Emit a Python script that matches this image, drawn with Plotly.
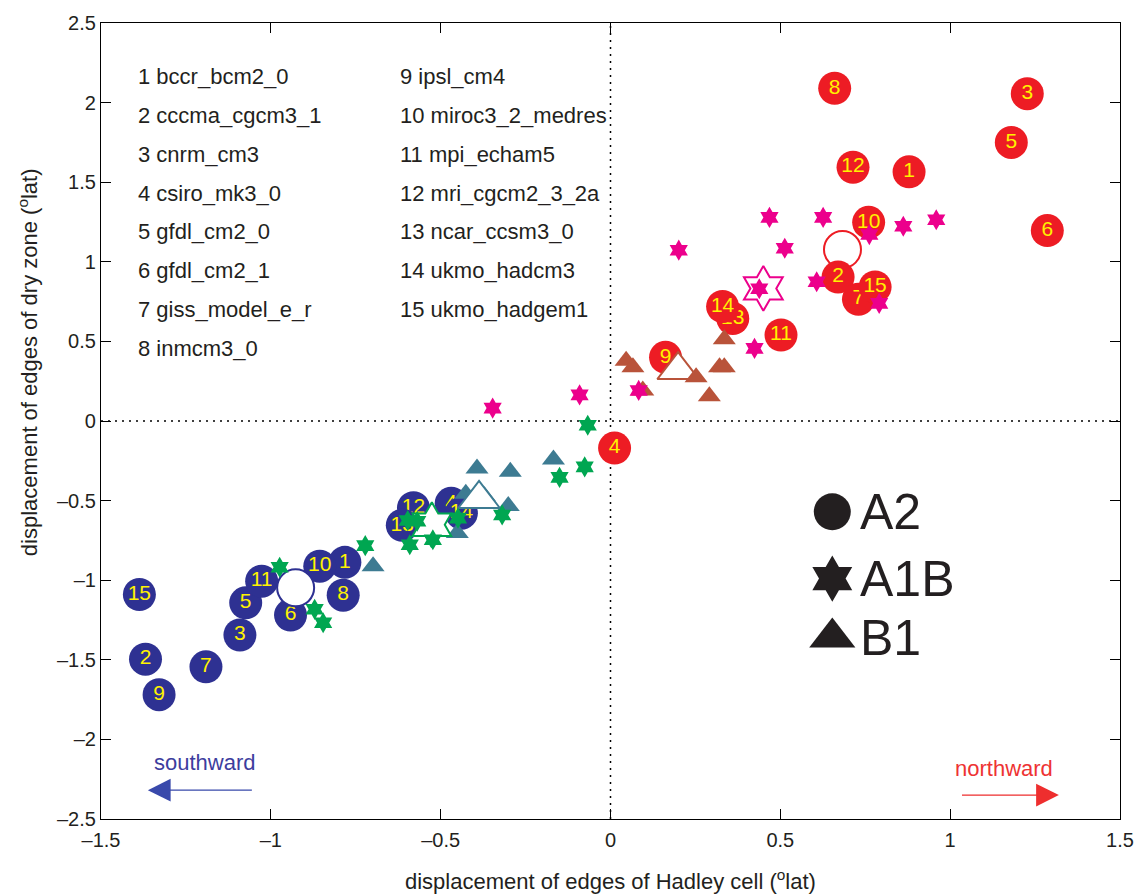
import plotly.graph_objects as go

# ---------------- data ----------------
model_names = ["bccr_bcm2_0", "cccma_cgcm3_1", "cnrm_cm3", "csiro_mk3_0", "gfdl_cm2_0",
               "gfdl_cm2_1", "giss_model_e_r", "inmcm3_0", "ipsl_cm4", "miroc3_2_medres",
               "mpi_echam5", "mri_cgcm2_3_2a", "ncar_ccsm3_0", "ukmo_hadcm3", "ukmo_hadgem1"]

# A2 northward (red circles), model number -> (x, y)
a2n_id = [1, 2, 3, 4, 5, 6, 7, 8, 9, 10, 11, 12, 13, 14, 15]
a2n_x = [0.879, 0.670, 1.227, 0.012, 1.180, 1.286, 0.730, 0.660, 0.162, 0.760, 0.502, 0.714, 0.360, 0.330, 0.779]
a2n_y = [1.565, 0.904, 2.056, -0.170, 1.750, 1.196, 0.765, 2.090, 0.400, 1.248, 0.540, 1.594, 0.644, 0.719, 0.842]
a2n_mean = (0.683, 1.077)

# A2 southward (navy circles)
a2s_id = [1, 2, 3, 4, 5, 6, 7, 8, 9, 10, 11, 12, 13, 14, 15]
a2s_x = [-0.782, -1.369, -1.091, -0.469, -1.074, -0.942, -1.191, -0.787, -1.329, -0.856, -1.027, -0.580, -0.613, -0.439, -1.387]
a2s_y = [-0.888, -1.496, -1.344, -0.517, -1.142, -1.219, -1.544, -1.094, -1.719, -0.912, -1.006, -0.545, -0.655, -0.579, -1.090]
a2s_mean = (-0.927, -1.048)

# A1B northward (magenta stars)
a1bn_x = [0.468, 0.626, 0.862, 0.959, 0.762, 0.201, 0.513, 0.607, 0.438, 0.791, 0.424, 0.083, -0.091, -0.347]
a1bn_y = [1.279, 1.279, 1.223, 1.264, 1.171, 1.073, 1.085, 0.875, 0.831, 0.739, 0.456, 0.192, 0.164, 0.081]
a1bn_mean = (0.450, 0.833)

# A1B southward (green stars)
a1bs_x = [-0.722, -0.974, -0.871, -0.846, -0.591, -0.597, -0.569, -0.067, -0.076, -0.150, -0.319, -0.449, -0.523]
a1bs_y = [-0.783, -0.919, -1.183, -1.267, -0.777, -0.625, -0.630, -0.027, -0.288, -0.354, -0.590, -0.610, -0.746]
a1bs_mean = (-0.526, -0.652)

# B1 northward (brown triangles)
b1n_x = [0.046, 0.066, 0.095, 0.252, 0.291, 0.335, 0.321, 0.335]
b1n_y = [0.379, 0.338, 0.192, 0.275, 0.156, 0.514, 0.338, 0.338]
b1n_mean = (0.199, 0.320)

# B1 southward (teal triangles)
b1s_x = [-0.393, -0.295, -0.168, -0.426, -0.371, -0.301, -0.451, -0.699]
b1s_y = [-0.298, -0.319, -0.242, -0.457, -0.472, -0.534, -0.704, -0.912]
b1s_mean = (-0.387, -0.490)

x_ticks = [-1.5, -1, -0.5, 0, 0.5, 1, 1.5]
y_ticks = [-2.5, -2, -1.5, -1, -0.5, 0, 0.5, 1, 1.5, 2, 2.5]

# ---------------- styles ----------------
RED = "#ED1C24"
NAVY = "#2E3192"
MAGENTA = "#EC008C"
GREEN = "#00A651"
BROWN = "#B9533A"
TEAL = "#3D7B92"
YELLOW = "#FFF200"
FONT = "Liberation Sans, Arial, Helvetica, sans-serif"

CIRC = 33
STAR = 16
TRI = 20
STAR_ANGLE = 0


def fmt(v):
    s = ("%g" % v)
    return s.replace("-", "\u2013")


fig = go.Figure()


def circles(ids, xs, ys, color):
    for i, x, y in zip(ids, xs, ys):
        fig.add_trace(go.Scatter(
            x=[x], y=[y], text=[str(i)], mode="markers+text",
            marker=dict(symbol="circle", size=CIRC, color=color, line=dict(width=0)),
            textfont=dict(color=YELLOW, size=21, family=FONT),
            textposition="middle center", hoverinfo="skip", showlegend=False))


def mean_marker(pt, symbol, size, color, angle=0):
    fig.add_trace(go.Scatter(
        x=[pt[0]], y=[pt[1]], mode="markers",
        marker=dict(symbol=symbol, size=size, color="white", angle=angle,
                    line=dict(color=color, width=2)),
        hoverinfo="skip", showlegend=False))


def pts(xs, ys, symbol, size, color, angle=0):
    fig.add_trace(go.Scatter(
        x=xs, y=ys, mode="markers",
        marker=dict(symbol=symbol, size=size, color=color, angle=angle,
                    line=dict(width=0)),
        hoverinfo="skip", showlegend=False))


# circles
circles(a2s_id, a2s_x, a2s_y, NAVY)
mean_marker(a2s_mean, "circle", 37, NAVY)
mean_marker(a2n_mean, "circle", 37, RED)
circles(a2n_id, a2n_x, a2n_y, RED)
# triangles
pts(b1s_x, b1s_y, "triangle-up", TRI, TEAL)
mean_marker(b1s_mean, "triangle-up", 36, TEAL)
mean_marker(b1n_mean, "triangle-up", 36, BROWN)
pts(b1n_x, b1n_y, "triangle-up", TRI, BROWN)
# stars
mean_marker(a1bs_mean, "hexagram", 34, GREEN, STAR_ANGLE)
mean_marker(a1bn_mean, "hexagram", 34, MAGENTA, STAR_ANGLE)
pts(a1bs_x, a1bs_y, "hexagram", STAR, GREEN, STAR_ANGLE)
pts(a1bn_x, a1bn_y, "hexagram", STAR, MAGENTA, STAR_ANGLE)

# legend markers
leg_y = [-0.57, -0.99, -1.36]
leg_sym = ["circle", "hexagram", "triangle-up"]
leg_size = [37, 35, 40]
leg_txt = ["A2", "A1B", "B1"]
for ly, sym, sz in zip(leg_y, leg_sym, leg_size):
    fig.add_trace(go.Scatter(
        x=[0.653], y=[ly], mode="markers",
        marker=dict(symbol=sym, size=sz, color="#231F20",
                    angle=STAR_ANGLE if sym == "hexagram" else 0, line=dict(width=0)),
        hoverinfo="skip", showlegend=False))

annotations = []
for ly, t in zip(leg_y, leg_txt):
    annotations.append(dict(x=0.728, y=ly, xref="x", yref="y", text=t, showarrow=False,
                            xanchor="left", yanchor="middle",
                            font=dict(size=50, color="#231F20", family=FONT)))

# model list
row_y0 = 2.1625
row_dy = 0.2435
for k, name in enumerate(model_names):
    col = 0 if k < 8 else 1
    row = k if k < 8 else k - 8
    annotations.append(dict(x=-1.397 if col == 0 else -0.626, y=row_y0 - row * row_dy,
                            xref="x", yref="y", text="%d %s" % (k + 1, name),
                            showarrow=False, xanchor="left", yanchor="middle",
                            font=dict(size=22, color="#231F20", family=FONT)))

# arrows
annotations.append(dict(x=-1.362, y=-2.319, ax=-1.047, ay=-2.319, xref="x", yref="y",
                        axref="x", ayref="y", showarrow=True, arrowhead=2, arrowsize=3.5,
                        arrowwidth=1.3, arrowcolor="#3949AB", text=" "))
annotations.append(dict(x=-1.194, y=-2.144, xref="x", yref="y", text="southward",
                        showarrow=False, font=dict(size=22, color="#3D3D9E", family=FONT)))
annotations.append(dict(x=1.32, y=-2.35, ax=1.026, ay=-2.35, xref="x", yref="y",
                        axref="x", ayref="y", showarrow=True, arrowhead=2, arrowsize=3.5,
                        arrowwidth=1.3, arrowcolor="#EE2E2E", text=" "))
annotations.append(dict(x=1.159, y=-2.181, xref="x", yref="y", text="northward",
                        showarrow=False, font=dict(size=22, color="#EE3333", family=FONT)))

# axis titles
annotations.append(dict(x=0.5, y=-0.0763, xref="paper", yref="paper",
                        text="displacement of edges of Hadley cell (<sup>o</sup>lat)",
                        showarrow=False, xanchor="center", yanchor="middle",
                        font=dict(size=22, color="#231F20", family=FONT)))
annotations.append(dict(x=-0.0716, y=0.574, xref="paper", yref="paper", textangle=-90,
                        text="displacement of edges of dry zone (<sup>o</sup>lat)",
                        showarrow=False, xanchor="center", yanchor="middle",
                        font=dict(size=22, color="#231F20", family=FONT)))

shapes = [
    dict(type="line", x0=0, x1=0, y0=-2.5, y1=2.5, xref="x", yref="y",
         line=dict(color="black", width=1.5, dash="2px,5px"), layer="below"),
    dict(type="line", x0=-1.5, x1=1.5, y0=0, y1=0, xref="x", yref="y",
         line=dict(color="black", width=1.5, dash="2px,5px"), layer="below"),
]

fig.update_layout(
    width=1146, height=895,
    margin=dict(l=101, r=25, t=19, b=76),
    paper_bgcolor="white", plot_bgcolor="white",
    font=dict(family=FONT, color="#231F20"),
    annotations=annotations, shapes=shapes,
    xaxis=dict(range=[-1.5, 1.5], tickvals=x_ticks, ticktext=[fmt(v) for v in x_ticks],
               ticks="inside", ticklen=10, tickcolor="black", showgrid=False, zeroline=False,
               showline=True, linecolor="black", linewidth=1.2, mirror="allticks",
               ticklabelstandoff=3,
               tickfont=dict(size=20, family=FONT, color="#231F20")),
    yaxis=dict(range=[-2.5, 2.5], tickvals=y_ticks, ticktext=[fmt(v) for v in y_ticks],
               ticks="inside", ticklen=10, tickcolor="black", showgrid=False, zeroline=False,
               showline=True, linecolor="black", linewidth=1.2, mirror="allticks",
               tickfont=dict(size=20, family=FONT, color="#231F20")),
)

fig.write_html("out.html", config={"displayModeBar": False},
               post_script="document.body.style.margin='0';document.body.style.overflow='hidden';")
